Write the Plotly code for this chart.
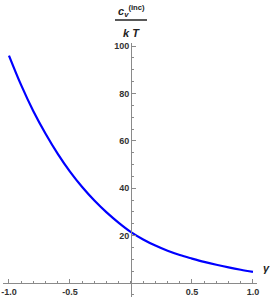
import plotly.graph_objects as go

gamma = [-1.0, -0.9, -0.8, -0.7, -0.6, -0.5, -0.4, -0.3, -0.2, -0.1, 0.0,
         0.1, 0.2, 0.3, 0.4, 0.5, 0.6, 0.7, 0.8, 0.9, 1.0]
cv_over_kT = [96.0, 83.5, 72.5, 63.0, 54.5, 47.0, 40.5, 34.8, 29.8, 25.4, 21.5,
              18.4, 15.8, 13.6, 11.8, 10.3, 8.9, 7.7, 6.6, 5.6, 4.7]

x_ticks = [-1.0, -0.5, 0.5, 1.0]
x_tick_labels = ["-1.0", "-0.5", "0.5", "1.0"]
y_ticks = [20, 40, 60, 80, 100]
y_tick_labels = ["20", "40", "60", "80", "100"]

W, H = 273, 298
L, R, T, B = 3, 16, 43, 1
pw, ph = W - L - R, H - T - B

def px(x):
    return (x - L) / pw

def py(y):
    return (H - B - y) / ph

fig = go.Figure()
fig.add_trace(go.Scatter(x=gamma, y=cv_over_kT, mode="lines",
                         line=dict(color="#0000FF", width=2.2, shape="spline"),
                         showlegend=False, hoverinfo="skip"))

axis_col = "#8a8a8a"
tick_font = dict(family="Liberation Sans, Arial", size=9, color="#333333", weight="bold")

fig.update_layout(
    width=W, height=H,
    margin=dict(l=L, r=R, t=T, b=B),
    paper_bgcolor="white", plot_bgcolor="white",
    xaxis=dict(range=[-1.049, 1.033], showgrid=False, zeroline=False,
               showline=True, linecolor=axis_col, linewidth=1,
               tickmode="array", tickvals=x_ticks, ticktext=x_tick_labels,
               ticks="inside", ticklen=4, tickcolor=axis_col,
               minor=dict(dtick=0.1, ticks="inside", ticklen=2, tickcolor=axis_col),
               tickfont=tick_font, anchor="free", position=py(283)),
    yaxis=dict(range=[-5.9, 101.3], showgrid=False, zeroline=False,
               showline=True, linecolor=axis_col, linewidth=1,
               tickmode="array", tickvals=y_ticks, ticktext=y_tick_labels,
               ticks="inside", ticklen=4, tickcolor=axis_col,
               minor=dict(dtick=5, ticks="inside", ticklen=2, tickcolor=axis_col),
               tickfont=tick_font, anchor="free", position=px(131)),
)

label_font = dict(family="Liberation Sans, Arial", size=11, color="#222222")
fig.add_annotation(x=px(131), y=py(11), xref="paper", yref="paper",
                   text="<b><i>c</i></b><sub><b><i>v</i></b></sub><sup><b>(inc)</b></sup>",
                   showarrow=False, font=label_font, xanchor="center", yanchor="middle")
fig.add_shape(type="line", xref="paper", yref="paper",
              x0=px(115), x1=px(147), y0=py(20), y1=py(20),
              line=dict(color="#222222", width=1.5))
fig.add_annotation(x=px(131), y=py(33), xref="paper", yref="paper",
                   text="<b><i>k T</i></b>",
                   showarrow=False, font=label_font, xanchor="center", yanchor="middle")
fig.add_annotation(x=px(266), y=py(268), xref="paper", yref="paper",
                   text="<b><i>γ</i></b>",
                   showarrow=False, font=label_font, xanchor="center", yanchor="middle")

fig.write_html("out.html", config={"displayModeBar": False},
               post_script=["document.body.style.margin='0px';"])
